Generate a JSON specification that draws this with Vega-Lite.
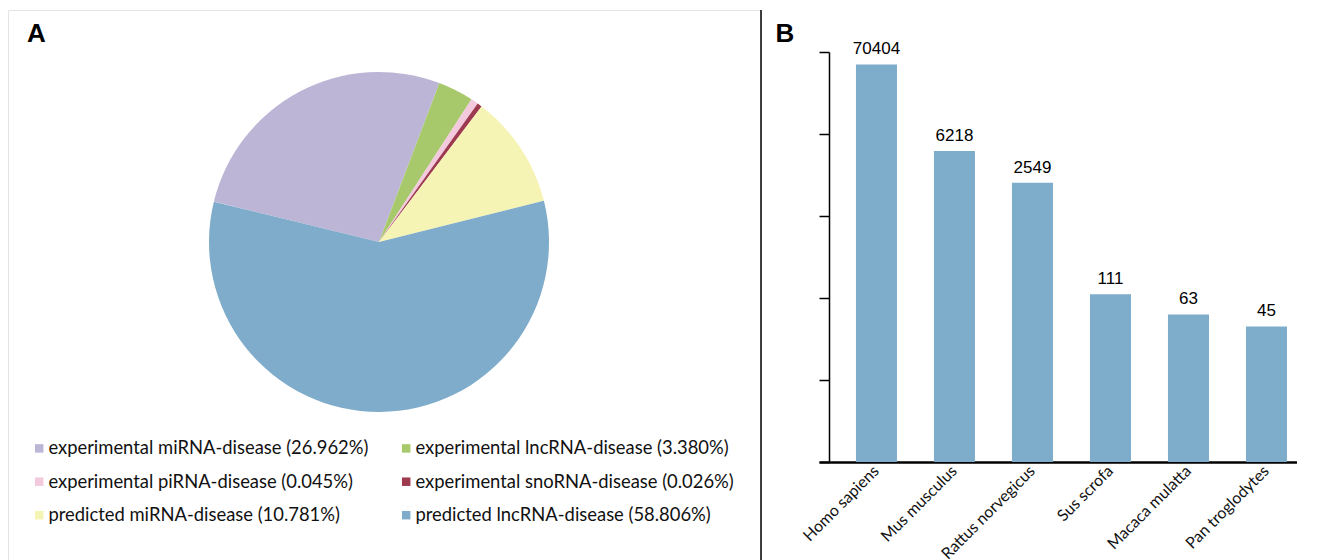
{
  "$schema": "https://vega.github.io/schema/vega-lite/v6.json",
  "background": "white",
  "padding": {"left": 7, "top": 8, "right": 0, "bottom": 0},
  "spacing": 12,
  "config": {"view": {"stroke": null}, "font": "Liberation Sans"},
  "hconcat": [
    {
      "width": 753,
      "height": 551,
      "view": {"stroke": "#e4e4e4", "strokeWidth": 1},
      "title": {"text": "A", "anchor": "start", "frame": "group", "offset": -59, "dx": 19, "baseline": "alphabetic", "fontSize": 26, "fontWeight": "bold", "font": "Liberation Sans", "color": "black"},
      "layer": [
        {
          "data": {"values": [
            {"idx": 1, "label": "experimental miRNA-disease (26.962%)", "share": 26.962},
            {"idx": 2, "label": "experimental lncRNA-disease (3.380%)", "share": 3.38},
            {"idx": 3, "label": "experimental piRNA-disease (0.045%)", "share": 0.7},
            {"idx": 4, "label": "experimental snoRNA-disease (0.026%)", "share": 0.45},
            {"idx": 5, "label": "predicted miRNA-disease (10.781%)", "share": 10.781},
            {"idx": 6, "label": "predicted lncRNA-disease (58.806%)", "share": 57.727}
          ]},
          "mark": {"type": "arc", "outerRadius": 170, "xOffset": -5.5, "yOffset": -43.5},
          "encoding": {
            "theta": {"field": "share", "type": "quantitative", "stack": true, "scale": {"range": [-1.331, 4.952]}},
            "order": {"field": "idx", "type": "quantitative"},
            "color": {
              "field": "label", "type": "nominal",
              "scale": {
                "domain": ["experimental miRNA-disease (26.962%)", "experimental lncRNA-disease (3.380%)", "experimental piRNA-disease (0.045%)", "experimental snoRNA-disease (0.026%)", "predicted miRNA-disease (10.781%)", "predicted lncRNA-disease (58.806%)"],
                "range": ["#BCB5D6", "#A8C96B", "#F3C9DD", "#9D3A50", "#F6F4B5", "#7EACCA"]
              },
              "legend": {
                "title": null, "orient": "none", "direction": "horizontal", "legendX": 22, "legendY": 429,
                "columns": 2, "columnPadding": 28, "rowPadding": 14.5,
                "symbolType": "square", "symbolSize": 72, "symbolStrokeWidth": 0, "symbolOpacity": 1,
                "labelFont": "Lato", "labelFontSize": 18.4, "labelColor": "#111111", "labelOffset": 0, "labelLimit": 0
              }
            }
          }
        },
        {
          "data": {"values": [{"divider": "panel"}]},
          "mark": {"type": "rule", "color": "black", "strokeWidth": 1.5},
          "encoding": {"x": {"value": "width"}}
        }
      ]
    },
    {
      "width": 478,
      "height": 452,
      "data": {"values": [
        {"species": "Homo sapiens", "count": 70404},
        {"species": "Mus musculus", "count": 6218},
        {"species": "Rattus norvegicus", "count": 2549},
        {"species": "Sus scrofa", "count": 111},
        {"species": "Macaca mulatta", "count": 63},
        {"species": "Pan troglodytes", "count": 45}
      ]},
      "encoding": {
        "x": {
          "field": "species", "type": "nominal", "sort": null,
          "scale": {"paddingInner": 0.474, "paddingOuter": 0.301, "align": 0.787},
          "axis": {"title": null, "labelAngle": -45, "labelAlign": "right", "labelBaseline": "middle", "labelPadding": 6, "labelFont": "Lato", "labelFontSize": 16, "labelColor": "#111111", "ticks": false, "domainColor": "black", "domainWidth": 2.5, "grid": false}
        },
        "y": {
          "field": "count", "type": "quantitative",
          "scale": {"type": "log", "domain": [1, 100000], "nice": false, "range": [452, 42]},
          "axis": {"title": "B", "titleAngle": 0, "titleAlign": "left", "titleBaseline": "alphabetic", "titleX": -54, "titleY": 31, "titleFont": "Liberation Sans", "titleFontSize": 26, "titleFontWeight": "bold", "titleColor": "black", "labels": false, "values": [1, 10, 100, 1000, 10000, 100000], "tickSize": 10, "tickColor": "black", "tickWidth": 1.5, "domainColor": "black", "domainWidth": 1.5, "grid": false, "offset": -10}
        }
      },
      "layer": [
        {"mark": {"type": "bar", "color": "#7EACCB"}, "encoding": {"y2": {"datum": 1}}},
        {"mark": {"type": "text", "baseline": "alphabetic", "dy": -10, "fontSize": 17, "font": "Liberation Sans", "color": "black"}, "encoding": {"text": {"field": "count", "type": "quantitative", "format": "d"}}}
      ]
    }
  ]
}
